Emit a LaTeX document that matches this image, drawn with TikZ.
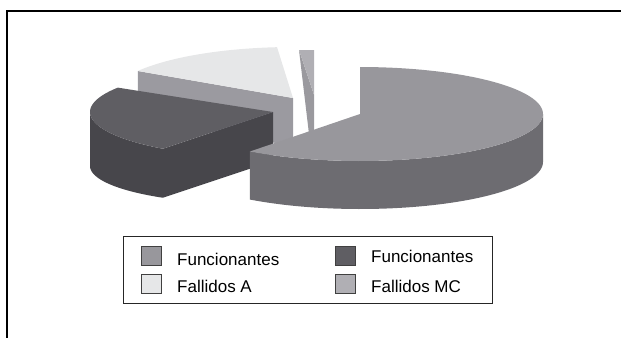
\documentclass[tikz,border=0pt]{standalone}
\usepackage{fontspec}
\setmainfont{Liberation Sans}
\definecolor{mainTop}{HTML}{98979C}
\definecolor{mainSide}{HTML}{6D6C71}
\definecolor{darkTop}{HTML}{5F5E63}
\definecolor{darkSide}{HTML}{47464B}
\definecolor{lightTop}{HTML}{E6E7E8}
\definecolor{lightFace}{HTML}{9B9AA0}
\definecolor{mcTop}{HTML}{B0AFB4}
\definecolor{mcFace}{HTML}{9A999E}
\begin{document}
\begin{tikzpicture}[x=1pt,y=-1pt,
  legsq/.style={draw=black!75, line width=0.9pt, minimum width=20pt, minimum height=19pt, inner sep=0pt},
  legtxt/.style={anchor=base west, inner sep=0pt, font=\fontsize{17}{20}\selectfont},
  frameline/.style={line width=1.5pt, black}]
\useasboundingbox (0,0) rectangle (621,338);
% frame
\coordinate (ftl) at (7,11);
\coordinate (ftr) at (621,11);
\coordinate (fbl) at (7,338);
\draw[frameline] (ftr) -- (ftl) -- (fbl);

% light slice (Fallidos A): radial face, then top
\fill[lightFace] (293,98) -- (137.8,71) -- (137.8,119) -- (293,146) -- cycle;
\fill[lightTop] (293,98) -- plot[domain=212:265,samples=40] ({293+183*cos(\x)},{98+51*sin(\x)}) -- cycle;

% sliver (Fallidos MC)
\fill[mcFace] (299,50) -- (314,95) -- (314,134) -- (309,134) -- cycle;
\fill[mcTop] (299,50) -- (314,50) -- (314,95) -- cycle;

% dark slice (Funcionantes)
\fill[darkSide] plot[domain=127:180,samples=40] ({273+183*cos(\x)},{112+46*sin(\x)})
  -- plot[domain=180:127,samples=40] ({273+183*cos(\x)},{161+46*sin(\x)+5*(\x-127)/53}) -- cycle;
\fill[darkSide] (273,112) -- (162.9,148.7) -- (162.9,197.7) -- (273,161) -- cycle;
\fill[darkTop] (273,112) -- plot[domain=127:212,samples=50] ({273+183*cos(\x)},{112+46*sin(\x)}) -- cycle;

% main slice (Funcionantes)
\fill[mainSide] plot[domain=0:127,samples=60] ({360+183*cos(\x)},{114+47*sin(\x)})
  -- plot[domain=127:0,samples=60] ({360+183*cos(\x)},{162+47*sin(\x)}) -- cycle;
\fill[mainTop] (360,114) -- plot[domain=-90:127,samples=90] ({360+183*cos(\x)},{114+47*sin(\x)}) -- cycle;

% legend
\draw[black!85, line width=0.9pt] (123.3,236) rectangle (492,303);
\node[legsq, fill=mainTop]  (s1) at (151.7,255.7) {};
\node[legsq, fill=lightTop] (s2) at (151.7,283.7) {};
\node[legsq, fill=darkTop]  (s3) at (345,255.7) {};
\node[legsq, fill=mcTop]    (s4) at (345,283.7) {};
\node[legtxt] (t1) at (177,265) {Funcionantes};
\node[legtxt] (t2) at (177,292) {Fallidos A};
\node[legtxt] (t3) at (371,262.5) {Funcionantes};
\node[legtxt] (t4) at (371,292) {Fallidos MC};
\end{tikzpicture}
\end{document}
